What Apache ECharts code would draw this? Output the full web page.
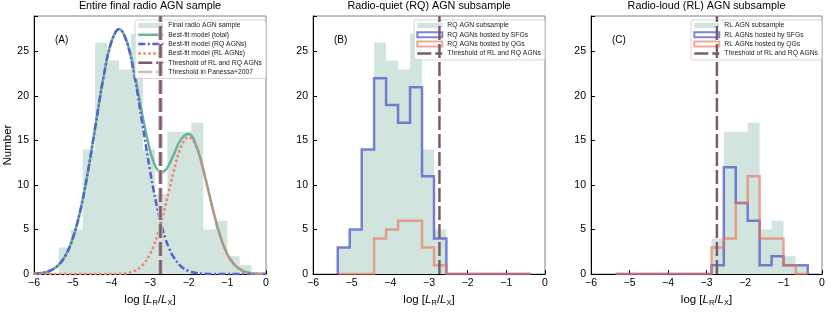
<!DOCTYPE html>
<html><head><meta charset="utf-8">
<script src="https://cdn.jsdelivr.net/npm/echarts@6/dist/echarts.min.js"></script>
<style>html,body{margin:0;padding:0;background:#fff}#c{width:831px;height:312px}</style>
</head><body><div id="c"></div>
<script>
// ---- data ----
const binEdges = [-5.36, -5.05, -4.74, -4.42, -4.11, -3.80, -3.49, -3.18, -2.87, -2.55, -2.24, -1.93, -1.62, -1.31, -1.00, -0.68, -0.37];
const allCounts   = [3, 5, 14, 26, 24, 23, 27, 14, 9, 16, 16, 17, 5, 6, 2, 1];
const rqCounts    = [3, 5, 14, 26, 24, 23, 27, 14, 5, 0, 0, 0, 0, 0, 0, 0];
const rqSfgCounts = [3, 5, 14, 22, 19, 17, 21, 11, 4, 0, 0, 0, 0, 0, 0, 0];
const rqQgCounts  = [0, 0, 0, 4, 5, 6, 6, 3, 1, 0, 0, 0, 0, 0, 0, 0];
const rlCounts    = [0, 0, 0, 0, 0, 0, 0, 0, 4, 16, 16, 17, 5, 6, 2, 1];
const rlSfgCounts = [0, 0, 0, 0, 0, 0, 0, 0, 1, 12, 8, 6, 1, 2, 1, 1];
const rlQgCounts  = [0, 0, 0, 0, 0, 0, 0, 0, 3, 4, 8, 11, 4, 4, 1, 0];

const modelX     = [-6.0, -5.8, -5.6, -5.4, -5.2, -5.0, -4.8, -4.6, -4.4, -4.2, -4.0, -3.8, -3.6, -3.4, -3.2, -3.0, -2.9, -2.8, -2.7, -2.6, -2.5, -2.4, -2.2, -2.0, -1.8, -1.6, -1.4, -1.2, -1.0, -0.8, -0.6, -0.4, -0.2, 0.0];
const modelTotal = [0.04, 0.13, 0.35, 0.88, 1.97, 3.97, 7.17, 11.64, 16.95, 22.18, 26.07, 27.53, 26.17, 22.54, 17.92, 13.89, 12.51, 11.67, 11.41, 11.68, 12.36, 13.29, 15.14, 15.75, 14.39, 11.36, 7.72, 4.50, 2.25, 0.97, 0.36, 0.11, 0.03, 0.01];
const modelRQ    = [0.04, 0.13, 0.35, 0.88, 1.97, 3.97, 7.17, 11.64, 16.95, 22.18, 26.06, 27.5, 26.06, 22.18, 16.95, 11.64, 9.26, 7.17, 5.41, 3.97, 2.84, 1.97, 0.88, 0.35, 0.13, 0.04, 0.01, 0, 0, 0, 0, 0, 0, 0];
const modelRL    = [0, 0, 0, 0, 0, 0, 0, 0, 0, 0, 0.01, 0.03, 0.11, 0.36, 0.97, 2.25, 3.25, 4.50, 6.00, 7.71, 9.52, 11.32, 14.26, 15.4, 14.26, 11.32, 7.71, 4.50, 2.25, 0.97, 0.36, 0.11, 0.03, 0.01];

const thresholdRLRQ = -2.73;
const thresholdPanessa = -2.73;
const xMin = -6, xMax = 0, xStep = 1;
const yMin = 0, yMax = 29, yStep = 5;

const panelTitles = ['Entire final radio AGN sample', 'Radio-quiet (RQ) AGN subsample', 'Radio-loud (RL) AGN subsample'];
const panelLabels = ['(A)', '(B)', '(C)'];

// ---- styles ----
const FONT = "'Liberation Sans', Arial, Helvetica, sans-serif";
const C_FILL = '#d1e5de';
const C_TOTAL = '#69b29b';
const C_RQ = '#5660cf';
const C_RL = '#f0826c';
const C_SFG = 'rgba(70,80,200,0.7)';
const C_QG = 'rgba(235,115,90,0.62)';
const C_THR = '#7a5c68';
const C_PAN = '#cdbcc3';
const DASH = [14, 4];

function stepPoints(counts) {
  const pts = [[binEdges[0], 0]];
  counts.forEach((c, i) => { pts.push([binEdges[i], c]); pts.push([binEdges[i + 1], c]); });
  pts.push([binEdges[binEdges.length - 1], 0]);
  return pts;
}
function zip(xs, ys) { return xs.map((x, i) => [x, ys[i]]); }
function vline(x) { return [[x, yMin], [x, yMax]]; }

const grids = [
  { left: 34, top: 16, width: 232, height: 262 },
  { left: 313, top: 16, width: 232, height: 262 },
  { left: 591, top: 16, width: 231, height: 262 }
].map(g => Object.assign(g, { show: true, borderColor: '#808080', borderWidth: 1, backgroundColor: 'transparent' }));

const xName = '{n|log [}{i|L}{s|R}{n|/}{i|L}{s|X}{n|]}';
const xAxes = [0, 1, 2].map(i => ({
  gridIndex: i, type: 'value', min: xMin, max: xMax, interval: xStep,
  name: xName, nameLocation: 'middle', nameGap: 16,
  nameTextStyle: { fontFamily: FONT, color: '#000', fontSize: 11.5,
    rich: { n: { fontFamily: FONT, fontSize: 11.5, color: '#000' },
            i: { fontFamily: FONT, fontSize: 11.5, fontStyle: 'italic', color: '#000' },
            s: { fontFamily: FONT, fontSize: 7.5, color: '#000', padding: [6, 0, 0, 0] } } },
  axisLine: { show: true, onZero: false, lineStyle: { color: '#000', width: 1 } },
  axisTick: { show: true, inside: true, length: 4, lineStyle: { color: '#000' } },
  splitLine: { show: false },
  axisLabel: { fontFamily: FONT, fontSize: 10.5, color: '#000', margin: 4,
    formatter: v => v < 0 ? '\u2212' + Math.abs(v) : String(v) }
}));
const yAxes = [0, 1, 2].map(i => ({
  gridIndex: i, type: 'value', min: yMin, max: yMax, interval: yStep,
  name: i === 0 ? 'Number' : '', nameLocation: 'middle', nameGap: 19,
  nameTextStyle: { fontFamily: FONT, color: '#000', fontSize: 11.5 },
  axisLine: { show: true, onZero: false, lineStyle: { color: '#000', width: 1 } },
  axisTick: { show: true, inside: true, length: 4, lineStyle: { color: '#000' } },
  splitLine: { show: false },
  axisLabel: { fontFamily: FONT, fontSize: 10.5, color: '#000', margin: 5,
    formatter: v => (v % yStep === 0 ? String(v) : '') }
}));

function fillSeries(name, counts, gi) {
  return { type: 'line', name, xAxisIndex: gi, yAxisIndex: gi, data: stepPoints(counts),
    symbol: 'none', lineStyle: { width: 0, color: C_FILL }, itemStyle: { color: C_FILL },
    areaStyle: { color: C_FILL, opacity: 1 }, z: 1, silent: true, animation: false };
}
function outlineSeries(name, counts, gi, color, z) {
  return { type: 'line', name, xAxisIndex: gi, yAxisIndex: gi, data: stepPoints(counts),
    symbol: 'none', lineStyle: { width: 2.5, color, join: 'miter' }, itemStyle: { color }, z, silent: true, animation: false };
}
function curveSeries(name, ys, color, type, z) {
  return { type: 'line', name, xAxisIndex: 0, yAxisIndex: 0, data: zip(modelX, ys), smooth: 0.4,
    symbol: 'none', lineStyle: { width: 2.5, color, type, cap: 'butt' }, itemStyle: { color }, z, silent: true, animation: false };
}
function thrSeries(name, x, gi, color, width, z) {
  return { type: 'line', name, xAxisIndex: gi, yAxisIndex: gi, data: vline(x),
    symbol: 'none', lineStyle: { width, color, type: DASH, cap: 'butt' }, itemStyle: { color }, z, silent: true, animation: false };
}

const series = [
  fillSeries('Final radio AGN sample', allCounts, 0),
  curveSeries('Best-fit model (total)', modelTotal, C_TOTAL, 'solid', 2),
  curveSeries('Best-fit model (RQ AGNs)', modelRQ, C_RQ, [7, 2.5, 2, 2.5], 3),
  curveSeries('Best-fit model (RL AGNs)', modelRL, C_RL, [2.5, 2.5], 3),
  thrSeries('Threshold in Panessa+2007', thresholdPanessa, 0, C_PAN, 4.5, 4),
  thrSeries('Threshold of RL and RQ AGNs', thresholdRLRQ, 0, C_THR, 2.5, 5),

  fillSeries('RQ AGN subsample', rqCounts, 1),
  outlineSeries('RQ AGNs hosted by SFGs', rqSfgCounts, 1, C_SFG, 2),
  outlineSeries('RQ AGNs hosted by QGs', rqQgCounts, 1, C_QG, 3),
  thrSeries('Threshold of RL and RQ AGNs', thresholdRLRQ, 1, C_THR, 2.5, 5),

  fillSeries('RL AGN subsample', rlCounts, 2),
  outlineSeries('RL AGNs hosted by SFGs', rlSfgCounts, 2, C_SFG, 2),
  outlineSeries('RL AGNs hosted by QGs', rlQgCounts, 2, C_QG, 3),
  thrSeries('Threshold of RL and RQ AGNs', thresholdRLRQ, 2, C_THR, 2.5, 5)
];

const legendBase = {
  orient: 'vertical', top: 20, itemWidth: 25, itemHeight: 5, itemGap: 2.3,
  textStyle: { fontFamily: FONT, fontSize: 6.8, color: '#222', lineHeight: 7 },
  backgroundColor: 'rgba(255,255,255,0.8)', borderColor: '#cccccc', borderWidth: 0.8, borderRadius: 2,
  padding: [2, 4, 3, 2], itemStyle: { opacity: 0 }, selectedMode: false
};
const fillItem = name => ({ name, icon: 'rect', itemStyle: { color: C_FILL, borderWidth: 0, opacity: 1 } });
const outlineItem = (name, color) => ({ name, icon: 'rect', itemStyle: { color: 'rgba(255,255,255,0)', borderColor: color, borderWidth: 2, opacity: 1 } });
const lineItem = (name, w) => ({ name, lineStyle: { width: w } });

const legends = [
  Object.assign({}, legendBase, { right: 831 - 266, data: [
    fillItem('Final radio AGN sample'),
    lineItem('Best-fit model (total)', 2.5),
    lineItem('Best-fit model (RQ AGNs)', 2.5),
    lineItem('Best-fit model (RL AGNs)', 2.5),
    lineItem('Threshold of RL and RQ AGNs', 2.5),
    lineItem('Threshold in Panessa+2007', 2.5)
  ] }),
  Object.assign({}, legendBase, { right: 831 - 545, data: [
    fillItem('RQ AGN subsample'),
    outlineItem('RQ AGNs hosted by SFGs', C_SFG),
    outlineItem('RQ AGNs hosted by QGs', C_QG),
    lineItem('Threshold of RL and RQ AGNs', 2.5)
  ] }),
  Object.assign({}, legendBase, { right: 831 - 822, data: [
    fillItem('RL AGN subsample'),
    outlineItem('RL AGNs hosted by SFGs', C_SFG),
    outlineItem('RL AGNs hosted by QGs', C_QG),
    lineItem('Threshold of RL and RQ AGNs', 2.5)
  ] })
];

const centers = grids.map(g => g.left + g.width / 2);
const titles = panelTitles.map((t, i) => ({
  text: t, left: centers[i], top: 1, textAlign: 'center', padding: 0,
  textStyle: { fontFamily: FONT, fontSize: 10.8, fontWeight: 'normal', color: '#000' }
})).concat(panelLabels.map((t, i) => ({
  text: t, left: grids[i].left + 21, top: 35, padding: 0,
  textStyle: { fontFamily: FONT, fontSize: 10, fontWeight: 'normal', color: '#000' }
})));

const chart = echarts.init(document.getElementById('c'), null, { renderer: 'canvas' });
chart.setOption({
  backgroundColor: '#fff', animation: false,
  title: titles, legend: legends, grid: grids, xAxis: xAxes, yAxis: yAxes, series
});
</script></body></html>
